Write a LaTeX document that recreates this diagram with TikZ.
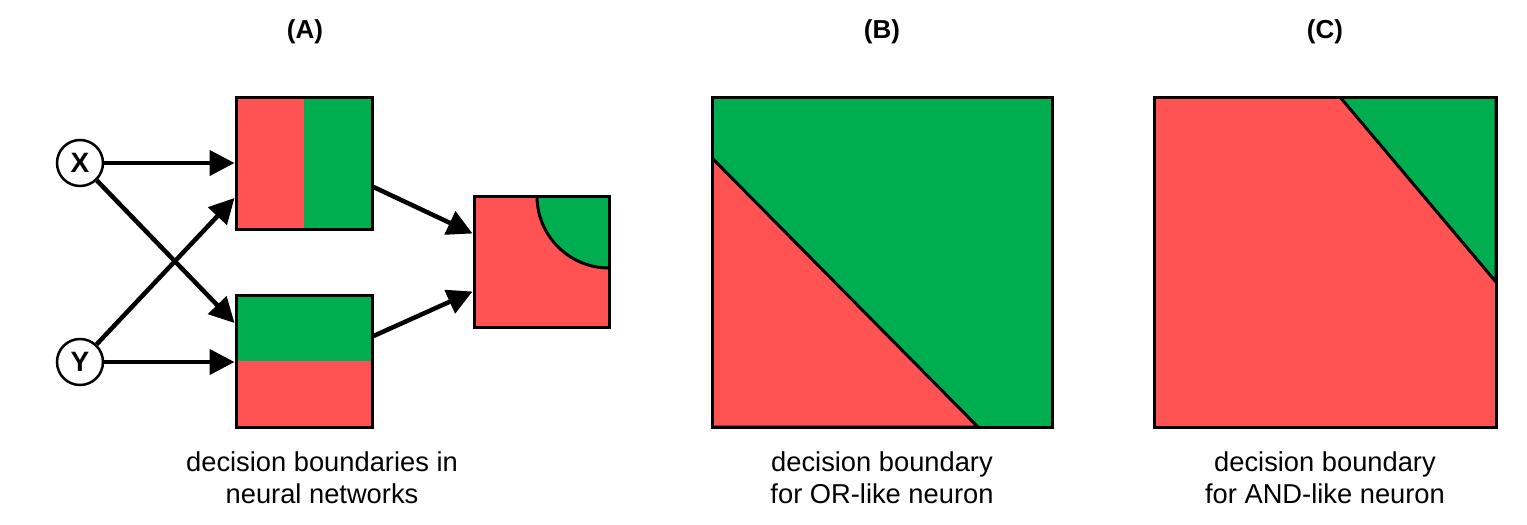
\documentclass[tikz,border=0pt]{standalone}
\usepackage{fontspec}
\setmainfont{Liberation Sans}
\usetikzlibrary{arrows.meta}
\definecolor{cred}{HTML}{FF5252}
\definecolor{cgreen}{HTML}{00AE4F}
\begin{document}
\begin{tikzpicture}[x=1pt,y=-1pt,
  box/.style={draw=black,line width=3pt,inner sep=0pt,rectangle},
  neuron/.style={draw=black,line width=2.5pt,circle,fill=white,minimum size=46pt,inner sep=0pt,font=\fontsize{28}{32}\selectfont\bfseries},
  arr/.style={line width=4.5pt,-{Triangle[length=25pt,width=25pt]}},
  title/.style={font=\fontsize{26}{30}\selectfont\bfseries},
  caption/.style={align=center,font=\fontsize{27.3}{32}\selectfont}]
\useasboundingbox (0,0) rectangle (1527,525);
% titles
\node[title] (tA) at (305,32) {(A)};
\node[title] (tB) at (882,32) {(B)};
\node[title] (tC) at (1325,32) {(C)};
% panel A boxes
\node[box,minimum width=136pt,minimum height=132pt,
  path picture={
    \fill[cred] (path picture bounding box.north west) rectangle (path picture bounding box.south);
    \fill[cgreen] (path picture bounding box.north) rectangle (path picture bounding box.south east);
  }] (b1) at (304,163) {};
\node[box,minimum width=136pt,minimum height=132pt,
  path picture={
    \fill[cgreen] (path picture bounding box.north west) rectangle (path picture bounding box.east);
    \fill[cred] (path picture bounding box.west) rectangle (path picture bounding box.south east);
  }] (b2) at (304,361) {};
\node[box,minimum width=135pt,minimum height=131pt,
  path picture={
    \fill[cred] (path picture bounding box.north west) rectangle (path picture bounding box.south east);
    \draw[fill=cgreen,line width=3pt] (path picture bounding box.north east) circle[radius=72pt];
  }] (b3) at (541.5,261.5) {};
% neurons
\node[neuron] (X) at (80,163) {X};
\node[neuron] (Y) at (80,362) {Y};
% connectors
\draw[arr] (X) -- (b1);
\draw[arr] (X) -- ([yshift=38pt]b2.west);
\draw[arr] (Y) -- ([yshift=-35pt]b1.west);
\draw[arr] (Y) -- (b2.west |- Y);
\draw[arr] ([yshift=-24pt]b1.east) -- ([yshift=28pt]b3.west);
\draw[arr] ([yshift=25pt]b2.east) -- ([yshift=-30pt]b3.west);
% panel B
\node[box,minimum width=340pt,minimum height=330pt,
  path picture={
    \fill[cgreen] (path picture bounding box.north west) rectangle (path picture bounding box.south east);
    \draw[fill=cred,line width=3pt,line join=round] ([yshift=-61pt]path picture bounding box.north west) -- (path picture bounding box.south west) -- ([xshift=266pt]path picture bounding box.south west) -- cycle;
  }] (bB) at (882,262) {};
% panel C
\node[box,minimum width=342pt,minimum height=330pt,
  path picture={
    \fill[cred] (path picture bounding box.north west) rectangle (path picture bounding box.south east);
    \draw[fill=cgreen,line width=3pt,line join=round] ([xshift=186pt]path picture bounding box.north west) -- (path picture bounding box.north east) -- ([yshift=-185pt]path picture bounding box.north east) -- cycle;
  }] (bC) at (1325,262) {};
% captions
\node[caption] (cA) at (322,478) {decision boundaries in\\neural networks};
\node[caption] (cB) at (882,478) {decision boundary\\for OR-like neuron};
\node[caption] (cC) at (1325,478) {decision boundary\\for AND-like neuron};
\end{tikzpicture}
\end{document}
